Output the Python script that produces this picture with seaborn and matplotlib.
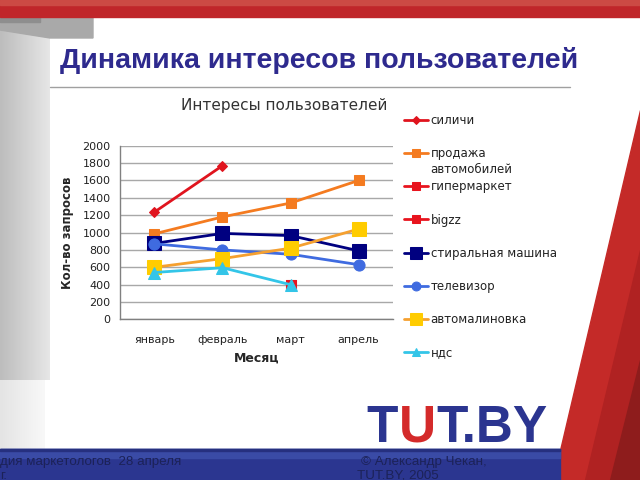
import numpy as np
import pandas as pd
import matplotlib
matplotlib.use("Agg")
import matplotlib.pyplot as plt
import seaborn as sns
from matplotlib.patches import Polygon, Rectangle

# ---- data ----
months = ["январь", "февраль", "март", "апрель"]
silichi = [1235, 1770, np.nan, np.nan]
prodazha = [985, 1180, 1340, 1600]
gipermarket = [np.nan, np.nan, 400, np.nan]
bigzz = [np.nan, np.nan, 400, np.nan]
stiralnaya = [875, 990, 965, 790]
televizor = [870, 800, 750, 630]
avtomalinovka = [600, 700, 820, 1040]
nds = [540, 595, 400, np.nan]

series_names = ["силичи", "продажа автомобилей", "гипермаркет", "bigzz",
                "стиральная машина", "телевизор", "автомалиновка", "ндс"]
series_values = [silichi, prodazha, gipermarket, bigzz,
                 stiralnaya, televizor, avtomalinovka, nds]
yticks = [0, 200, 400, 600, 800, 1000, 1200, 1400, 1600, 1800, 2000]

# styles: line color, marker, marker face color, marker size
styles = [
    ("#E0141E", "D", "#E0141E", 5),
    ("#F47B20", "s", "#F47B20", 7),
    ("#E8141E", "s", "#E8141E", 7),
    ("#E8141E", "s", "#E8141E", 7),
    ("#000080", "s", "#000080", 10),
    ("#3F6BE0", "o", "#3F6BE0", 8),
    ("#F5A030", "s", "#FFCC00", 10),
    ("#33C5E8", "^", "#33C5E8", 8),
]

rows = []
for name, vals in zip(series_names, series_values):
    for i, v in enumerate(vals):
        rows.append({"series": name, "pos": i, "month": months[i], "value": v})
df = pd.DataFrame(rows)

sns.set_style("white")
plt.rcParams["font.family"] = ["DejaVu Sans"]

fig = plt.figure(figsize=(6.4, 4.8), dpi=100)
fig.patch.set_facecolor("white")

W, H = 640.0, 480.0
def fx(x): return x / W
def fy(y): return 1 - y / H

# ---- slide decorations ----
bg = fig.add_axes([0, 0, 1, 1], zorder=-10)
bg.set_xlim(0, W); bg.set_ylim(H, 0); bg.axis("off")
grad = np.linspace(0, 1, 50)[None, :]
bg.imshow(grad, extent=(0, 50, 380, 15),
          cmap=matplotlib.colors.LinearSegmentedColormap.from_list("g", ["#BDBDBD", "#E6E6E6"]),
          aspect="auto", zorder=1)
bg.imshow(grad, extent=(0, 45, 450, 380),
          cmap=matplotlib.colors.LinearSegmentedColormap.from_list("g2", ["#E4E4E4", "#F8F8F8"]),
          aspect="auto", zorder=1)
bg.add_patch(Polygon([(0, 15), (93, 15), (93, 38), (50, 38), (0, 30)], closed=True, color="#A9A9A9", zorder=2))
bg.add_patch(Polygon([(0, 15), (40, 15), (40, 22), (0, 22)], closed=True, color="#8E8E8E", zorder=2))
bg.add_patch(Rectangle((0, 0), W, 17, color="#C0262A", zorder=3))
bg.add_patch(Rectangle((0, 0), W, 5, color="#CC4A44", zorder=3))
bg.add_patch(Polygon([(640, 110), (640, 480), (553, 480)], closed=True, color="#C42A28", zorder=2))
bg.add_patch(Polygon([(640, 250), (640, 480), (585, 480)], closed=True, color="#B02222", zorder=2))
bg.add_patch(Polygon([(640, 360), (640, 480), (610, 480)], closed=True, color="#8E1C1C", zorder=2))
bg.add_patch(Rectangle((0, 449), 560, 31, color="#2B3690", zorder=3))
bg.add_patch(Rectangle((0, 449), 560, 9, color="#3A4BA6", zorder=3))
bg.add_patch(Rectangle((0, 449), 560, 1.5, color="#26307F", zorder=3))
bg.plot([50, 570], [87, 87], color="#A0A0A0", lw=1, zorder=4)

fig.text(fx(60), fy(61), "Динамика интересов пользователей", fontsize=20.5, fontweight="bold",
         color="#2E2A8E", family=["Liberation Sans", "DejaVu Sans"], va="center", ha="left")
foot_kw = dict(fontsize=9.6, color="#1C2258", family=["Liberation Sans"], va="center", ha="left")
fig.text(fx(0), fy(462), "дия маркетологов  28 апреля", **foot_kw)
fig.text(fx(0), fy(476), "г.", **foot_kw)
fig.text(fx(361), fy(462), "© Александр Чекан,", **foot_kw)
fig.text(fx(357), fy(476), "TUT.BY, 2005", **foot_kw)
logo_kw = dict(fontsize=37, fontweight="heavy", family=["Liberation Sans"], va="center", ha="left")
fig.text(fx(366), fy(428), "T", color="#2B3590", **logo_kw)
fig.text(fx(399), fy(428), "U", color="#D42A2A", **logo_kw)
fig.text(fx(436), fy(428), "T.BY", color="#2B3590", **logo_kw)

# ---- chart ----
ax = fig.add_axes([fx(120.3), fy(319.4), (392.7 - 120.3) / W, (319.4 - 145.7) / H])
ax.set_facecolor("white")
for name, (lc, mk, mfc, ms) in zip(series_names, styles):
    sub = df[df["series"] == name].dropna(subset=["value"])
    sns.lineplot(data=sub, x="pos", y="value", ax=ax, color=lc, marker=mk,
                 markerfacecolor=mfc, markeredgecolor=mfc, markersize=ms,
                 linewidth=2, label=name, legend=False, zorder=5)

ax.set_xlim(-0.5, len(months) - 0.5)
ax.set_ylim(0, 2000)
ax.set_yticks(yticks)
ax.set_xticks(range(len(months)))
ax.set_xticklabels(months)
ax.set_xticks(np.arange(-0.5, len(months)), minor=True)
ax.tick_params(axis="x", which="major", length=0, pad=11, labelsize=8, labelcolor="#222222")
ax.tick_params(axis="x", which="minor", length=4, color="#808080", direction="out")
ax.tick_params(axis="y", length=4, color="#808080", direction="out", labelsize=8,
               labelcolor="#222222", pad=3)
ax.grid(axis="y", color="#A8A8A8", linewidth=1)
ax.set_axisbelow(True)
for s in ["top", "right"]:
    ax.spines[s].set_visible(False)
for s in ["left", "bottom"]:
    ax.spines[s].set_color("#808080")
    ax.spines[s].set_linewidth(1)
ax.set_xlabel("Месяц", fontsize=9, fontweight="bold", labelpad=5)
ax.set_ylabel("Кол-во запросов", fontsize=8.5, fontweight="bold", labelpad=6)
ax.set_title("Интересы пользователей", fontsize=11, color="#333333", x=0.6, pad=26)

handles, labels = ax.get_legend_handles_labels()
# in the legend the long label wraps; its second line is added below the first
leg_labels = [lab.split(" ")[0] if lab == "продажа автомобилей" else lab for lab in labels]
leg = fig.legend(handles, leg_labels, loc="upper left", bbox_to_anchor=(fx(404), fy(114)),
                 frameon=False, fontsize=8.5, handlelength=2.0, handletextpad=0.25,
                 labelspacing=1.71, borderaxespad=0, borderpad=0, markerscale=0.8)
for t in leg.get_texts():
    t.set_color("#222222")

fig.canvas.draw()
for t, lab in zip(leg.get_texts(), labels):
    if lab == "продажа автомобилей":
        bb = t.get_window_extent()
        fig.text(bb.x0 / fig.bbox.width, (bb.y0 - 16) / fig.bbox.height,
                 lab.split(" ", 1)[1], fontsize=8.5, color="#222222", ha="left", va="bottom")

fig.savefig("out.png", dpi=100)
